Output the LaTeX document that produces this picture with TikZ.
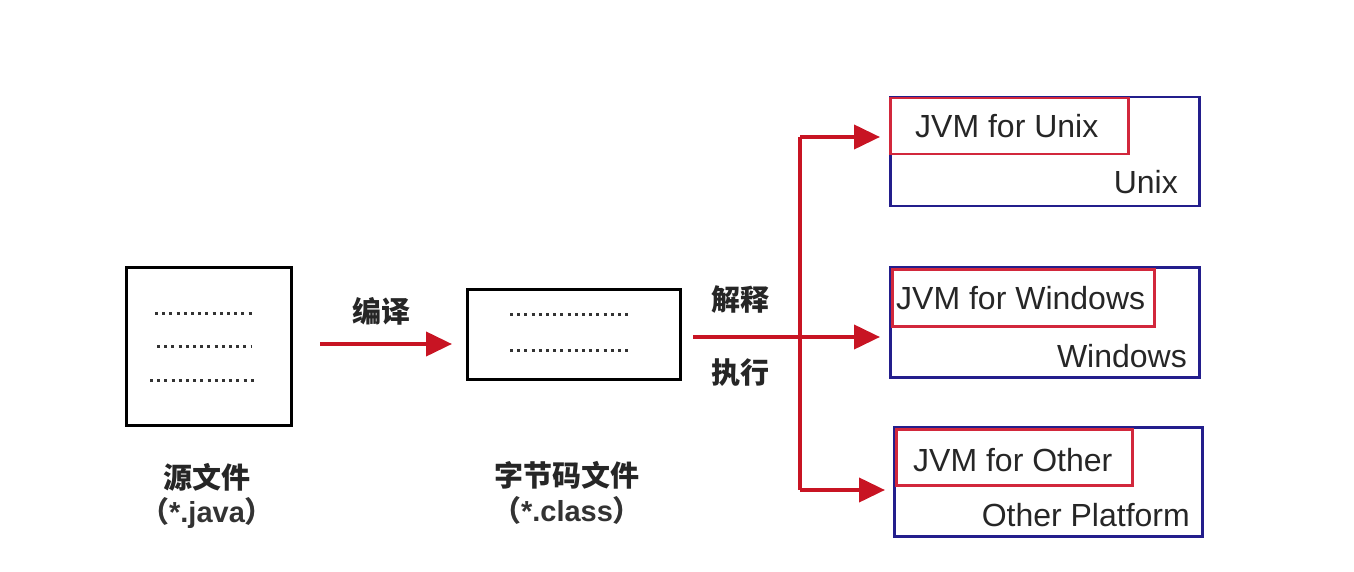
\documentclass[tikz,border=0pt]{standalone}
\usepackage{fontspec}
\setmainfont{Liberation Sans}
\newfontfamily\cjk{Noto Sans CJK SC}
\usetikzlibrary{arrows.meta}
\definecolor{jred}{RGB}{200,20,35}
\definecolor{jblue}{RGB}{35,30,140}
\definecolor{jpink}{RGB}{210,40,60}
\begin{document}
\begin{tikzpicture}[x=1pt,y=-1pt,
  filebox/.style={draw=black,line width=3pt,anchor=north west,inner sep=0pt},
  dots/.style={line width=3pt,dash pattern=on 3pt off 4.2pt,black!80},
  rline/.style={draw=jred,line width=4pt},
  rarrow/.style={rline,-{Triangle[length=26pt,width=24pt]}},
  platbox/.style={draw=jblue,line width=2.5pt,anchor=north west,inner sep=0pt},
  jvmbox/.style={draw=jpink,line width=2.5pt,anchor=north west,inner sep=0pt},
  lbl/.style={font=\fontsize{32}{36}\selectfont,text=black!85,inner sep=0pt},
  cn/.style={font=\cjk\bfseries\fontsize{29}{34}\selectfont,text=black!85,inner sep=0pt},
  ext/.style={font=\bfseries\fontsize{29}{34}\selectfont,text=black!80,inner sep=0pt}]
\useasboundingbox (0,0) rectangle (1354,572);
% source file box
\node[filebox,minimum width=165pt,minimum height=158pt] (src) at (125,266) {};
\draw[dots] (155,313) -- (252,313);
\draw[dots] (157,346) -- (252,346);
\draw[dots] (150,380) -- (256,380);
\node[cn] (srcname) at (207,477) {源文件};
\node[ext] (srcext) at (207,513) {{\cjk（}*.java{\cjk）}};
% compile arrow
\coordinate (a1s) at (320,344);
\coordinate (a1e) at (452,344);
\draw[rarrow] (a1s) -- (a1e);
\node[cn] (compile) at (381,311) {编译};
% class file box
\node[filebox,minimum width=213pt,minimum height=90pt] (cls) at (466,288) {};
\draw[dots] (510,314) -- (632,314);
\draw[dots] (510,350) -- (632,350);
\node[cn] (clsname) at (567,475) {字节码文件};
\node[ext] (clsext) at (567,510) {{\cjk（}*.class{\cjk）}};
% platform boxes
\node[platbox,minimum width=309pt,minimum height=109pt] (unix) at (889,96) {};
\node[jvmbox,minimum width=238pt,minimum height=56pt] (junix) at (889,97) {};
\node[lbl,anchor=west] (tjunix) at (915,126) {JVM for Unix};
\node[lbl,anchor=east] (tunix) at (1178,182) {Unix};
\node[platbox,minimum width=309pt,minimum height=110pt] (win) at (889,266) {};
\node[jvmbox,minimum width=262pt,minimum height=57pt] (jwin) at (891,268) {};
\node[lbl,anchor=west] (tjwin) at (896,298) {JVM for Windows};
\node[lbl,anchor=east] (twin) at (1187,356) {Windows};
\node[platbox,minimum width=308pt,minimum height=109pt] (oth) at (893,426) {};
\node[jvmbox,minimum width=236pt,minimum height=56pt] (joth) at (895,428) {};
\node[lbl,anchor=west] (tjoth) at (913,460) {JVM for Other};
\node[lbl,anchor=east] (toth) at (1190,515) {Other Platform};
% interpret arrows
\coordinate (c0) at (693,337);
\coordinate (top) at (800,137);
\coordinate (bot) at (800,490);
\draw[rline] (top) -- (bot);
\draw[rarrow,shorten >=9pt] (c0) -- (win.west |- c0);
\draw[rarrow,shorten >=9pt] (top) -- (unix.west |- top);
\draw[rarrow,shorten >=8pt] (bot) -- (oth.west |- bot);
\node[cn] (interp) at (740,300) {解释};
\node[cn] (exec) at (740,373) {执行};
\end{tikzpicture}
\end{document}
